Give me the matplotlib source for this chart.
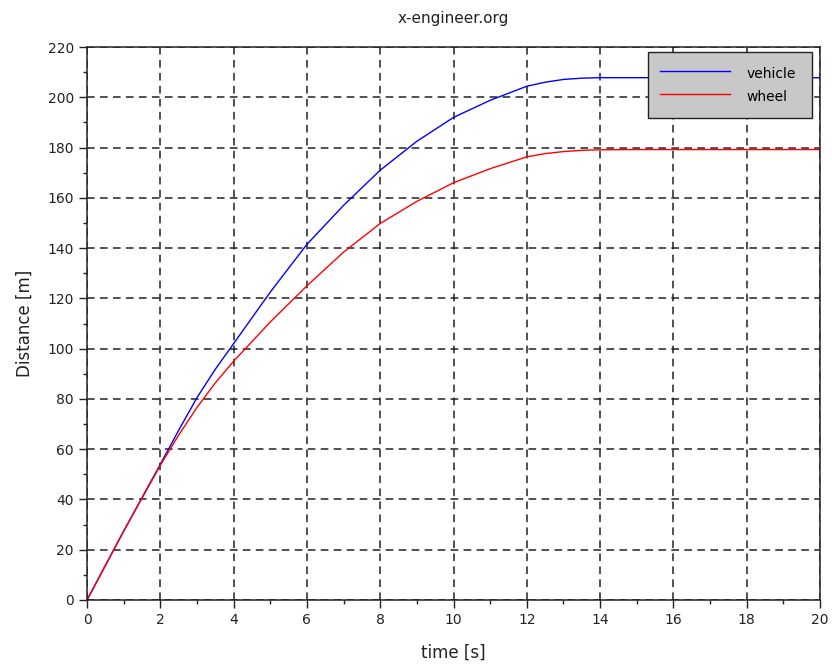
import matplotlib
matplotlib.use('Agg')
import matplotlib.pyplot as plt
import numpy as np

# values
time_s = [0, 1, 2, 2.5, 3, 3.5, 4, 5, 6, 7, 8, 9, 10, 11, 12, 12.5, 13, 13.5, 14, 15, 16, 17, 18, 19, 20]
vehicle = [0, 27.4, 54, 67.5, 80.5, 91.8, 102, 122.5, 141.5, 157, 171, 182.5, 192, 198.8, 204.4,
           206.0, 207.1, 207.6, 207.8, 207.8, 207.8, 207.8, 207.8, 207.8, 207.8]
wheel = [0, 27.4, 53.6, 65.6, 76.6, 86.4, 95, 110.6, 125, 138.4, 149.8, 158.6, 166, 171.6, 176.3,
         177.6, 178.4, 178.9, 179.1, 179.2, 179.2, 179.2, 179.2, 179.2, 179.2]

fig = plt.figure(figsize=(8.32, 6.66), dpi=100)
ax = fig.add_axes([0.1046, 0.0991, 0.8810, 0.8303])

ax.plot(time_s, vehicle, color='#0000ff', lw=1.0, label='vehicle')
ax.plot(time_s, wheel, color='#ff0000', lw=1.0, label='wheel')

ax.set_xlim(0, 20)
ax.set_ylim(0, 220)
ax.set_xticks(np.arange(0, 21, 2))
ax.set_yticks(np.arange(0, 221, 20))
ax.set_xticks(np.arange(1, 20, 2), minor=True)
ax.set_yticks(np.arange(10, 220, 20), minor=True)
ax.tick_params(which='major', length=6, width=1, labelsize=10, colors='#222222')
ax.tick_params(which='minor', length=3, width=1, colors='#222222')
ax.grid(True, which='major', color='#222222', linestyle=(0, (5, 3.5)), linewidth=1.1)
ax.set_axisbelow(True)
for s in ax.spines.values():
    s.set_color('#222222')
    s.set_linewidth(1.1)

ax.set_title('x-engineer.org', fontsize=11, pad=17, color='#222222')
ax.set_xlabel('time [s]', fontsize=12, color='#222222', labelpad=12)
ax.set_ylabel('Distance [m]', fontsize=12, color='#222222', labelpad=10)

leg = ax.legend(loc='upper left', bbox_to_anchor=(0.765, 0.877, 0.224, 0.114), mode='expand',
                fancybox=False, edgecolor='#222222', facecolor='#c8c8c8', framealpha=1,
                fontsize=10, handlelength=5.0, handletextpad=1.2, handleheight=1.65,
                borderpad=0.9, labelspacing=0.3, borderaxespad=0)
leg.get_frame().set_linewidth(1.0)

fig.savefig('out.png', dpi=100)
